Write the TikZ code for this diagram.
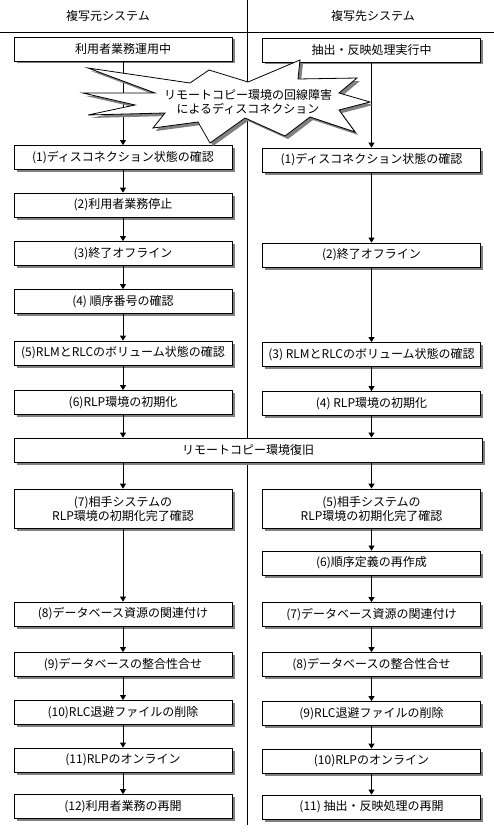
\documentclass[tikz,border=0pt]{standalone}
\usepackage{fontspec}
\setmainfont{Noto Sans CJK JP}
\usetikzlibrary{arrows.meta,shadows}

\tikzset{
  stepbox/.style={draw, fill=white, line width=0.8pt, minimum width=218pt, minimum height=24pt,
    inner sep=0pt, align=center, font=\fontsize{12}{14}\selectfont,
    drop shadow={fill=black!50, opacity=1, shadow xshift=2.5pt, shadow yshift=-2.5pt}},
  flow/.style={-{Triangle[length=5pt,width=6pt]}, line width=0.8pt},
  head/.style={font=\fontsize{12}{14}\selectfont},
}

\begin{document}
\begin{tikzpicture}[x=1pt,y=-1pt]
  \useasboundingbox (0,0) rectangle (494,832);
  % column frame
  \draw[line width=0.8pt] (0,32) -- (494,32);
  \draw[line width=0.8pt] (247,0) -- (247,825);
  \node[head] (hsrc) at (108,16) {複写元システム};
  \node[head] (hdst) at (373,16) {複写先システム};

  % source side
  \node[stepbox] (l0) at (123,49) {利用者業務運用中};
  \node[stepbox] (l1) at (123,157.5) {(1)ディスコネクション状態の確認};
  \node[stepbox] (l2) at (123,205) {(2)利用者業務停止};
  \node[stepbox] (l3) at (123,253.5) {(3)終了オフライン};
  \node[stepbox] (l4) at (123,301.5) {(4) 順序番号の確認};
  \node[stepbox] (l5) at (123,353) {(5)RLMとRLCのボリューム状態の確認};
  \node[stepbox] (l6) at (123,402.5) {(6)RLP環境の初期化};
  \node[stepbox, minimum height=39pt] (l7) at (123,508.5) {(7)相手システムの\\RLP環境の初期化完了確認};
  \node[stepbox] (l8) at (123,614) {(8)データベース資源の関連付け};
  \node[stepbox] (l9) at (123,664.5) {(9)データベースの整合性合せ};
  \node[stepbox] (l10) at (123,712.5) {(10)RLC退避ファイルの削除};
  \node[stepbox] (l11) at (123,760) {(11)RLPのオンライン};
  \node[stepbox] (l12) at (123,806.5) {(12)利用者業務の再開};

  % target side
  \node[stepbox] (r0) at (371.5,50) {抽出・反映処理実行中};
  \node[stepbox] (r1) at (371.5,160) {(1)ディスコネクション状態の確認};
  \node[stepbox] (r2) at (371.5,255) {(2)終了オフライン};
  \node[stepbox] (r3) at (371.5,354.5) {(3) RLMとRLCのボリューム状態の確認};
  \node[stepbox] (r4) at (371.5,403.5) {(4) RLP環境の初期化};
  \node[stepbox, minimum height=39pt] (r5) at (371.5,508.5) {(5)相手システムの\\RLP環境の初期化完了確認};
  \node[stepbox] (r6) at (371.5,563) {(6)順序定義の再作成};
  \node[stepbox] (r7) at (371.5,614.5) {(7)データベース資源の関連付け};
  \node[stepbox] (r8) at (371.5,664.5) {(8)データベースの整合性合せ};
  \node[stepbox] (r9) at (371.5,713.5) {(9)RLC退避ファイルの削除};
  \node[stepbox] (r10) at (371.5,761) {(10)RLPのオンライン};
  \node[stepbox] (r11) at (371.5,807) {(11) 抽出・反映処理の再開};

  % shared recovery
  \node[stepbox, minimum width=468pt] (rec) at (248,450) {リモートコピー環境復旧};

  % connectors
  \foreach \a/\b in {l0/l1,l1/l2,l2/l3,l3/l4,l4/l5,l5/l6,l7/l8,l8/l9,l9/l10,l10/l11,l11/l12,
                     r0/r1,r1/r2,r2/r3,r3/r4,r5/r6,r6/r7,r7/r8,r8/r9,r9/r10,r10/r11}
    \draw[flow] (\a.south) -- (\b.north);
  \draw[flow] (l6.south) -- (l6.south |- rec.north);
  \draw[flow] (r4.south) -- (r4.south |- rec.north);
  \draw[flow] (rec.south -| l7.north) -- (l7.north);
  \draw[flow] (rec.south -| r5.north) -- (r5.north);

  % burst over the two first connectors
  \foreach \d/\col/\ln in {3/black!50/none, 0/white/black}
    \filldraw[shift={(\d,\d)}, fill=\col, draw=\ln, line width=0.8pt]
      (88,68) -- (190,83) -- (209,70) -- (248,82) -- (300,60) -- (298,79) -- (357,78)
      -- (339,93) -- (370,102) -- (339,110) -- (355,132) -- (310,117) -- (285,136)
      -- (245,118) -- (210,143) -- (198,122) -- (153,128) -- (165,113) -- (88,115)
      -- (135,105) -- (83,93) -- (155,93) -- cycle;
  \node[head, align=center, inner sep=0pt] (disc) at (248,101.5) {リモートコピー環境の回線障害\\によるディスコネクション};
\end{tikzpicture}
\end{document}
